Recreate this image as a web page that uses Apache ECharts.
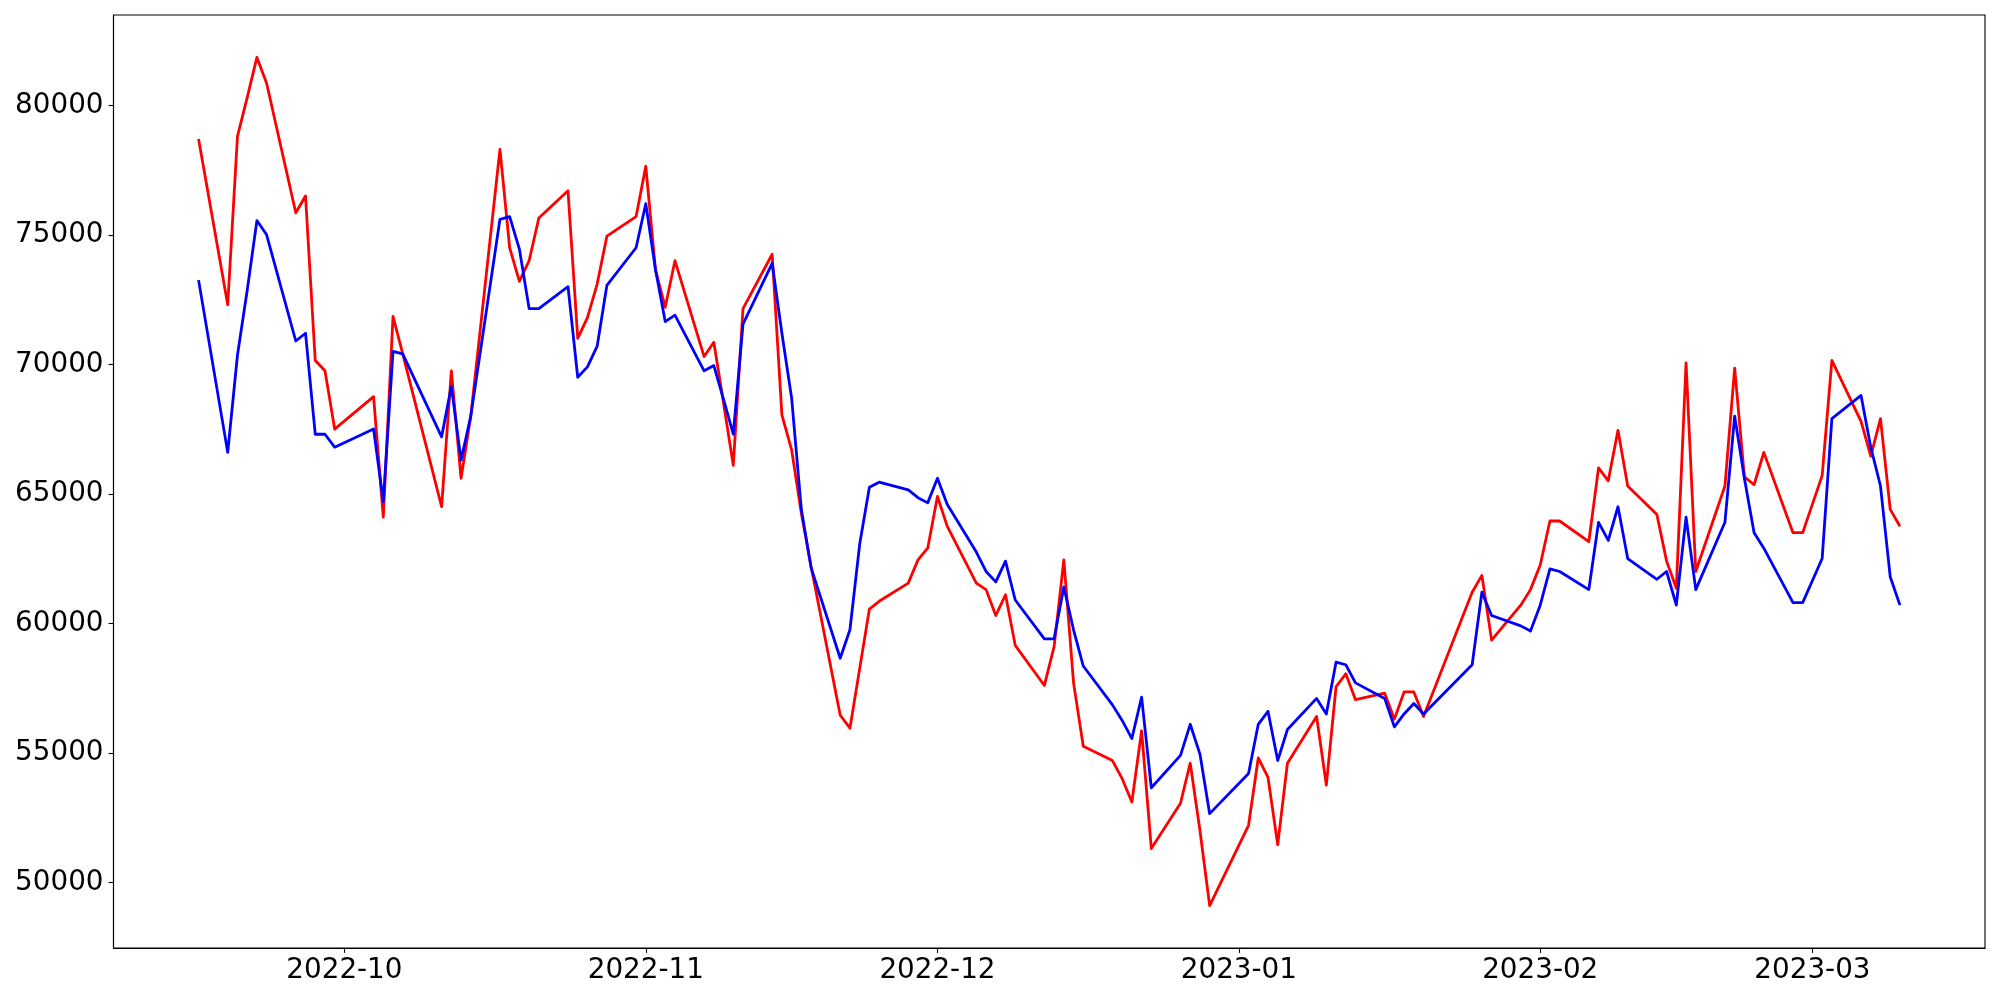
<!DOCTYPE html>
<html>
<head>
<meta charset="utf-8">
<script src="https://cdn.jsdelivr.net/npm/echarts@6/dist/echarts.min.js"></script>
<style>
html,body{margin:0;padding:0;background:#fff;}
#chart{width:2000px;height:1000px;}
</style>
</head>
<body>
<div id="chart"></div>
<script>
// Trading dates (KRX calendar)
const dates = [
 "2022-09-16","2022-09-19","2022-09-20","2022-09-21","2022-09-22","2022-09-23","2022-09-26","2022-09-27","2022-09-28","2022-09-29","2022-09-30",
 "2022-10-04","2022-10-05","2022-10-06","2022-10-07","2022-10-11","2022-10-12","2022-10-13","2022-10-14","2022-10-17","2022-10-18","2022-10-19","2022-10-20","2022-10-21","2022-10-24","2022-10-25","2022-10-26","2022-10-27","2022-10-28","2022-10-31",
 "2022-11-01","2022-11-02","2022-11-03","2022-11-04","2022-11-07","2022-11-08","2022-11-09","2022-11-10","2022-11-11","2022-11-14","2022-11-15","2022-11-16","2022-11-17","2022-11-18","2022-11-21","2022-11-22","2022-11-23","2022-11-24","2022-11-25","2022-11-28","2022-11-29","2022-11-30",
 "2022-12-01","2022-12-02","2022-12-05","2022-12-06","2022-12-07","2022-12-08","2022-12-09","2022-12-12","2022-12-13","2022-12-14","2022-12-15","2022-12-16","2022-12-19","2022-12-20","2022-12-21","2022-12-22","2022-12-23","2022-12-26","2022-12-27","2022-12-28","2022-12-29",
 "2023-01-02","2023-01-03","2023-01-04","2023-01-05","2023-01-06","2023-01-09","2023-01-10","2023-01-11","2023-01-12","2023-01-13","2023-01-16","2023-01-17","2023-01-18","2023-01-19","2023-01-20","2023-01-25","2023-01-26","2023-01-27","2023-01-30","2023-01-31",
 "2023-02-01","2023-02-02","2023-02-03","2023-02-06","2023-02-07","2023-02-08","2023-02-09","2023-02-10","2023-02-13","2023-02-14","2023-02-15","2023-02-16","2023-02-17","2023-02-20","2023-02-21","2023-02-22","2023-02-23","2023-02-24","2023-02-27","2023-02-28",
 "2023-03-02","2023-03-03","2023-03-06","2023-03-07","2023-03-08","2023-03-09","2023-03-10"
];

const redValues = [
 78700,72300,78800,80300,81850,80850,75850,76500,70150,69750,67500,
 68750,64100,71850,70400,64500,69750,65600,68000,78300,74500,73200,74000,75650,76700,71000,71800,73100,74950,75700,
 77650,73650,72200,74000,70300,70850,68500,66100,72150,74250,68050,66700,64250,62200,56450,55950,58250,60550,60850,61550,62450,62900,
 64900,63750,61550,61300,60300,61100,59150,57600,59100,62450,57700,55250,54700,54000,53100,55850,51300,53050,54600,52000,49100,
 52200,54800,54050,51450,54600,56400,53750,57550,58050,57050,57300,56300,57350,57350,56400,61200,61850,59350,60700,61300,
 62250,63950,63950,63150,66000,65500,67450,65300,64200,62400,61350,70050,62000,65300,69850,65650,65350,66600,63500,63500,
 65700,70150,67800,66450,67900,64400,63750
];

const blueValues = [
 73250,66600,70350,72850,75550,75000,70900,71200,67300,67300,66800,
 67500,64700,70500,70400,67200,69150,66300,68000,75600,75700,74450,72150,72150,73000,69500,69900,70700,73050,74500,
 76200,73650,71650,71900,69750,69950,68650,67300,71550,73900,71200,68700,64400,62150,58650,59750,63050,65250,65450,65150,64850,64650,
 65600,64600,62750,62000,61600,62400,60900,59400,59400,61400,59750,58350,56850,56250,55550,57150,53650,54900,56100,54950,52650,
 54200,56100,56600,54700,55900,57100,56500,58500,58400,57700,57100,56000,56500,56900,56500,58400,61200,60300,59900,59700,
 60700,62100,62000,61300,63900,63200,64500,62500,61700,62000,60700,64100,61300,63900,68000,65600,63500,62900,60800,60800,
 62500,67900,68800,66800,65300,61800,60700
];

const xTickLabels = ["2022-10","2022-11","2022-12","2023-01","2023-02","2023-03"];
const yTickValues = [50000,55000,60000,65000,70000,75000,80000];

function ts(s){ const p = s.split('-').map(Number); return Date.UTC(p[0], p[1]-1, p[2] || 1); }
const t0 = ts(dates[0]), t1 = ts(dates[dates.length-1]);
const xPad = (t1 - t0) * 0.05;
const xTicks = xTickLabels.map(ts);

const allVals = redValues.concat(blueValues);
const vMin = Math.min.apply(null, allVals), vMax = Math.max.apply(null, allVals);
const yPad = (vMax - vMin) * 0.05;

const redData = dates.map((d,i)=>[ts(d), redValues[i]]);
const blueData = dates.map((d,i)=>[ts(d), blueValues[i]]);

const font = 'DejaVu Sans';
const chart = echarts.init(document.getElementById('chart'), null, {renderer:'canvas'});
chart.setOption({
  animation: false,
  backgroundColor: '#ffffff',
  grid: { left: 113.5, right: 15, top: 15, bottom: 52, show: true, borderColor: '#000', borderWidth: 1.1, backgroundColor: 'transparent' },
  xAxis: {
    type: 'value',
    min: t0 - xPad, max: t1 + xPad,
    splitLine: { show: false },
    axisLine: { show: true, onZero: false, lineStyle: { color: '#000', width: 1.1 } },
    axisTick: { show: true, customValues: xTicks, length: 4.9, inside: false, lineStyle: { color: '#000', width: 1.1 } },
    axisLabel: {
      customValues: xTicks, color: '#000', fontSize: 27.8, fontFamily: font, margin: 9,
      formatter: function(v){ const d = new Date(v); return d.getUTCFullYear() + '-' + String(d.getUTCMonth()+1).padStart(2,'0'); }
    }
  },
  yAxis: {
    type: 'value',
    min: vMin - yPad, max: vMax + yPad,
    splitLine: { show: false },
    axisLine: { show: true, onZero: false, lineStyle: { color: '#000', width: 1.1 } },
    axisTick: { show: true, customValues: yTickValues, length: 4.9, inside: false, lineStyle: { color: '#000', width: 1.1 } },
    axisLabel: { customValues: yTickValues, color: '#000', fontSize: 27.8, fontFamily: font, margin: 10, formatter: function(v){ return String(v); } }
  },
  series: [
    { name: 'red', type: 'line', data: redData, showSymbol: false, symbol: 'none', lineStyle: { color: '#ff0000', width: 2.8, join: 'round', cap: 'butt' }, itemStyle: { color: '#ff0000' } },
    { name: 'blue', type: 'line', data: blueData, showSymbol: false, symbol: 'none', lineStyle: { color: '#0000ff', width: 2.8, join: 'round', cap: 'butt' }, itemStyle: { color: '#0000ff' } }
  ]
});
</script>
</body>
</html>
